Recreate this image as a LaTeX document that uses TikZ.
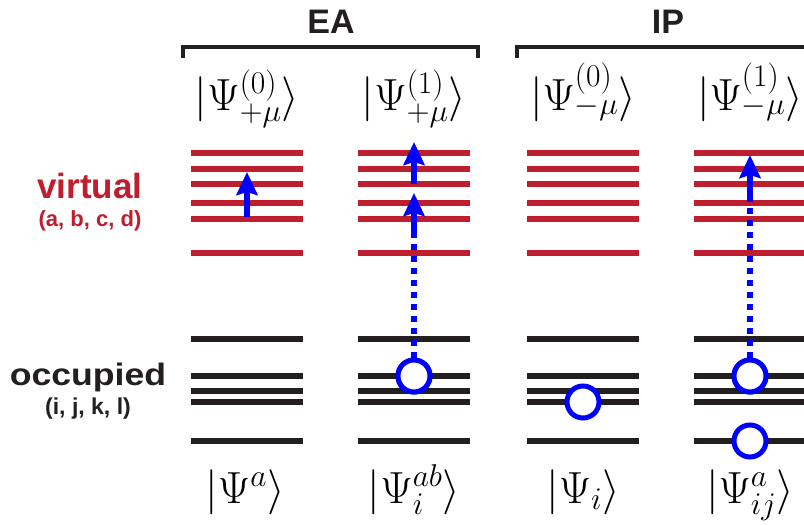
\RequirePackage{fix-cm}
\documentclass[tikz,border=0pt]{standalone}
\usepackage[no-math]{fontspec}
\newfontfamily\hv{Liberation Sans}
\usetikzlibrary{arrows.meta}
\definecolor{vred}{RGB}{190,30,45}
\definecolor{oblk}{RGB}{35,31,32}
\definecolor{eblue}{RGB}{0,0,255}
\tikzset{
  vlev/.style={draw=vred, line width=5.5pt},
  olev/.style={draw=oblk, line width=5.5pt},
  excite/.style={draw=eblue, line width=6pt, -{Stealth[length=23pt,width=21pt,inset=3pt]}},
  dotline/.style={draw=eblue, line width=6pt, dash pattern=on 6pt off 6pt},
  hole/.style={circle, draw=eblue, line width=5pt, fill=white, minimum size=32pt, inner sep=0pt},
  brack/.style={draw=oblk, line width=3.5pt},
  head/.style={font=\hv\bfseries\fontsize{34}{38}\selectfont, text=oblk, anchor=base},
  ket/.style={font=\fontsize{45}{52}\selectfont, anchor=base, inner sep=0pt},
}
\begin{document}
\begin{tikzpicture}[x=1pt, y=-1pt]
\clip (0,0) rectangle (804,525);
\fill[white] (0,0) rectangle (804,525);
% brackets and headings
\draw[brack] (183,58) -- (183,47) -- (478,47) -- (478,58);
\draw[brack] (517,58) -- (517,47) -- (830,47);
\node[head] (ea) at (331,33) {EA};
\node[head] (ip) at (668,33) {IP};
% side labels
\node[anchor=base, text=vred, font=\hv\bfseries\fontsize{35}{40}\selectfont] (virt) at (90,198) {virtual};
\node[anchor=base, text=vred, font=\hv\bfseries\fontsize{22}{26}\selectfont] (virtidx) at (90,226) {(a, b, c, d)};
\node[anchor=base, text=oblk, font=\hv\bfseries\fontsize{31}{36}\selectfont] (occ) at (88,385) {\scalebox{1.15}[1]{occupied}};
\node[anchor=base, text=oblk, font=\hv\bfseries\fontsize{23}{26}\selectfont] (occidx) at (88,414) {(i, j, k, l)};
% levels
\foreach \c in {247,414,583,750}{
  \foreach \y in {153,169,184,203,219,253}{
    \draw[vlev] (\c-56,\y) -- (\c+56,\y);
  }
  \foreach \y in {339,376,391,402,441}{
    \draw[olev] (\c-56,\y) -- (\c+56,\y);
  }
}
% kets
\node[ket] (k1) at (247,110) {$|\Psi^{(0)}_{+\mu}\rangle$};
\node[ket] (k2) at (414,110) {$|\Psi^{(1)}_{+\mu}\rangle$};
\node[ket] (k3) at (583,110) {$|\Psi^{(0)}_{-\mu}\rangle$};
\node[ket] (k4) at (750,110) {$|\Psi^{(1)}_{-\mu}\rangle$};
\node[ket] (b1) at (245,503) {$|\Psi^{a}\rangle$};
\node[ket] (b2) at (414,503) {$|\Psi^{ab}_{i}\rangle$};
\node[ket] (b3) at (583,503) {$|\Psi_{i}\rangle$};
\node[ket] (b4) at (750,503) {$|\Psi^{a}_{ij}\rangle$};
% holes
\node[hole] (h2) at (414,376) {};
\node[hole] (h3) at (583,402) {};
\node[hole] (h4a) at (750,376) {};
\node[hole] (h4b) at (750,441) {};
% arrow endpoints
\coordinate (a1s) at (247,217);
\coordinate (a1e) at (247,172);
\coordinate (a2s) at (414,184);
\coordinate (a2e) at (414,142);
\coordinate (a3s) at (414,238);
\coordinate (a3e) at (414,193);
\coordinate (a4s) at (750,200);
\coordinate (a4e) at (750,155);
% dotted promotions
\draw[dotline] (h2.north) -- (a3s);
\draw[dotline] (h4a.north) -- (a4s);
% arrows
\draw[excite] (a1s) -- (a1e);
\draw[excite] (a2s) -- (a2e);
\draw[excite] (a3s) -- (a3e);
\draw[excite] (a4s) -- (a4e);
% redraw holes on top
\node[hole] at (h2) {};
\node[hole] at (h4a) {};
\end{tikzpicture}
\end{document}
